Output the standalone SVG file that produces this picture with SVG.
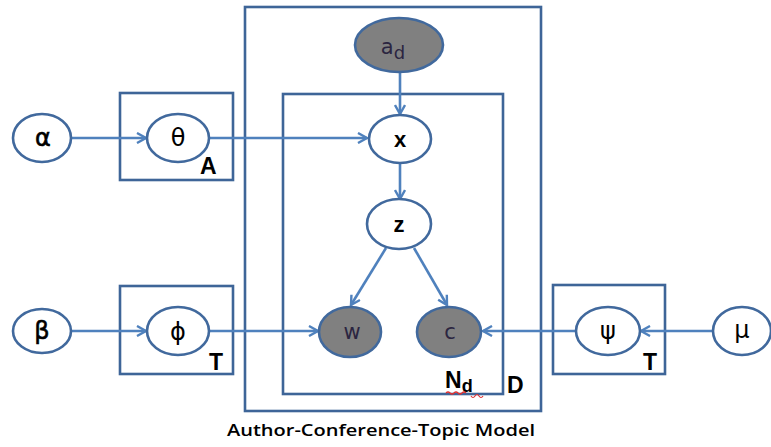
<svg xmlns="http://www.w3.org/2000/svg" width="771" height="447" viewBox="0 0 771 447">
  <style>
    .plate { fill: none; stroke: #3e6598; stroke-width: 2.6; }
    .node { fill: #ffffff; stroke: #41699d; stroke-width: 2.6; }
    .obs { fill: #808080; stroke: #41699d; stroke-width: 2.6; }
    .edge { fill: none; stroke: #4f81bd; stroke-width: 2.6; marker-end: url(#arrow); }
    .sym { font-family: "DejaVu Sans", "Liberation Sans", sans-serif; font-size: 24px; fill: #000; text-anchor: middle; }
    .heavy { stroke: #000; stroke-width: 0.6; }
    .var { font-family: "Liberation Sans", sans-serif; font-size: 22px; font-weight: bold; fill: #000; text-anchor: middle; }
    .obsText { font-family: "DejaVu Sans", "Liberation Sans", sans-serif; font-size: 21px; fill: #2b2540; text-anchor: middle; }
    .plateLabel { font-family: "Liberation Sans", sans-serif; font-size: 23px; font-weight: bold; fill: #000; }
    .caption { font-family: "Open Sans", "Liberation Sans", sans-serif; font-size: 16px; font-weight: 600; fill: #000; }
  </style>
  <defs>
    <marker id="arrow" markerWidth="12" markerHeight="12" refX="10" refY="6" orient="auto" markerUnits="userSpaceOnUse">
      <path d="M1,1 L10,6 L1,11" fill="none" stroke="#4f81bd" stroke-width="2.4"/>
    </marker>
  </defs>

  <rect width="771" height="447" fill="#ffffff"/>

  <!-- plates -->
  <g id="plate-D"><rect class="plate" x="245" y="7" width="296" height="404"/><text class="plateLabel" x="507" y="393">D</text></g>
  <g id="plate-Nd">
    <rect class="plate" x="283" y="94" width="220" height="300"/>
    <text class="plateLabel" x="445" y="388">N<tspan font-size="18" dy="4">d</tspan></text>
    <path d="M446,393 q2,-2 4,0 t4,0 t4,0 t4,0 t4,0 M471,396 q2,3 4,0 t4,0 t4,0" fill="none" stroke="#e03030" stroke-width="1.2"/>
  </g>
  <g id="plate-A"><rect class="plate" x="120" y="93" width="113" height="87"/><text class="plateLabel" x="200" y="174">A</text></g>
  <g id="plate-T1"><rect class="plate" x="120" y="286" width="113" height="88"/><text class="plateLabel" x="209" y="370">T</text></g>
  <g id="plate-T2"><rect class="plate" x="553" y="285" width="112" height="89"/><text class="plateLabel" x="643" y="370">T</text></g>

  <!-- connectors -->
  <g id="edges">
    <line class="edge" x1="71" y1="138" x2="146" y2="138"/>
    <line class="edge" x1="209" y1="138" x2="367" y2="138"/>
    <line class="edge" x1="400" y1="72" x2="400" y2="114"/>
    <line class="edge" x1="400" y1="163" x2="400" y2="199"/>
    <line class="edge" x1="386" y1="248" x2="351" y2="305"/>
    <line class="edge" x1="414" y1="248" x2="447" y2="305"/>
    <line class="edge" x1="71" y1="331" x2="146" y2="331"/>
    <line class="edge" x1="209" y1="331" x2="318" y2="331"/>
    <line class="edge" x1="576" y1="331" x2="483" y2="331"/>
    <line class="edge" x1="713" y1="331" x2="641" y2="331"/>
  </g>

  <!-- nodes -->
  <g id="node-alpha"><ellipse class="node" cx="42" cy="138" rx="29" ry="24"/><text class="sym heavy" x="43" y="146">α</text></g>
  <g id="node-theta"><ellipse class="node" cx="178" cy="138" rx="31" ry="24"/><text class="sym" x="178" y="146">θ</text></g>
  <g id="node-ad"><ellipse class="obs" cx="399" cy="45" rx="44" ry="27"/><text class="obsText" x="393" y="54" font-size="24">a<tspan font-size="18" dy="5">d</tspan></text></g>
  <g id="node-x"><ellipse class="node" cx="400" cy="139" rx="31" ry="24"/><text class="var" x="400" y="147">x</text></g>
  <g id="node-z"><ellipse class="node" cx="399" cy="224" rx="32" ry="25"/><text class="var" x="399" y="232">z</text></g>
  <g id="node-w"><ellipse class="obs" cx="350" cy="332" rx="31" ry="25"/><text class="obsText" x="352" y="339">w</text></g>
  <g id="node-c"><ellipse class="obs" cx="449" cy="332" rx="32" ry="25"/><text class="obsText" x="450" y="339">c</text></g>
  <g id="node-beta"><ellipse class="node" cx="42" cy="331" rx="29" ry="22"/><text class="sym heavy" x="42" y="339">β</text></g>
  <g id="node-phi"><ellipse class="node" cx="178" cy="331" rx="31" ry="24"/><text class="sym" x="178" y="340">ϕ</text></g>
  <g id="node-psi"><ellipse class="node" cx="608" cy="331" rx="32" ry="24"/><text class="sym" x="608" y="339">ψ</text></g>
  <g id="node-mu"><ellipse class="node" cx="742" cy="331" rx="29" ry="24"/><text class="sym" x="742" y="338">μ</text></g>

  <text class="caption" x="227" y="436" textLength="308" lengthAdjust="spacingAndGlyphs">Author-Conference-Topic Model</text>
</svg>
